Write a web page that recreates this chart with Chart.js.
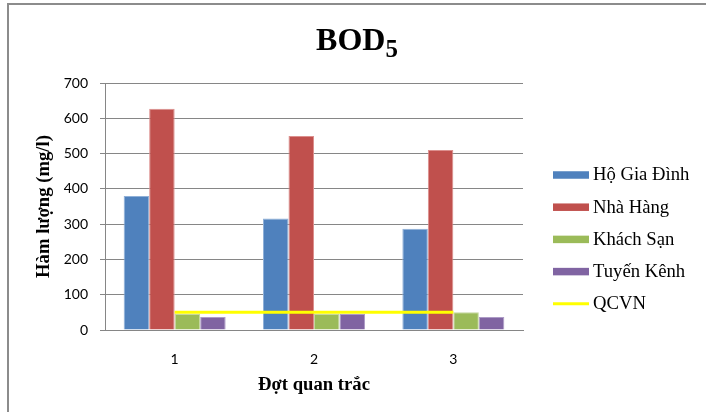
<!DOCTYPE html>
<html>
<head>
<meta charset="utf-8">
<script src="https://cdn.jsdelivr.net/npm/chart.js@4.4.1/dist/chart.umd.min.js"></script>
<style>
  html, body { margin: 0; padding: 0; background: #fff; }
  #wrap { position: relative; width: 706px; height: 412px; overflow: hidden; }
  #frame { position: absolute; left: 7px; top: 3px; right: -10px; bottom: -10px;
           border-left: 2px solid #8c8c8c; border-top: 2px solid #8c8c8c; }
  #c { position: absolute; left: 0; top: 0; }
</style>
</head>
<body>
<div id="wrap">
  <div id="frame"></div>
  <canvas id="c" width="706" height="412"></canvas>
</div>
<script>
// Sampling rounds (x axis)
const categories = ['1', '2', '3'];

// BOD5 concentration per source (mg/l)
const hoGiaDinh = [380, 316, 287];
const nhaHang   = [627, 550, 510];
const khachSan  = [46, 46, 50];
const tuyenKenh = [37, 45, 37];
// Regulatory limit (QCVN)
const qcvn      = [50, 50, 50];

const seriesNames = ['Hộ Gia Đình', 'Nhà Hàng', 'Khách Sạn', 'Tuyến Kênh', 'QCVN'];
const yTicks = [0, 100, 200, 300, 400, 500, 600, 700];

const titleMain = 'BOD';
const titleSub = '5';
const xTitle = 'Đợt quan trắc';
const yTitle = 'Hàm lượng (mg/l)';

const SERIF = '"Liberation Serif", "Times New Roman", serif';
const SANS = 'Lato, "Open Sans", sans-serif';
const GRID = '#868686';

// Title with a subscript digit
const titlePlugin = {
  id: 'bodTitle',
  afterDraw(chart) {
    const ctx = chart.ctx;
    ctx.save();
    ctx.fillStyle = '#000';
    ctx.textBaseline = 'alphabetic';
    ctx.font = 'bold 32px ' + SERIF;
    const wMain = ctx.measureText(titleMain).width;
    ctx.font = 'bold 25px ' + SERIF;
    const wSub = ctx.measureText(titleSub).width;
    const x0 = 357 - (wMain + wSub) / 2;
    ctx.font = 'bold 32px ' + SERIF;
    ctx.fillText(titleMain, x0, 50);
    ctx.font = 'bold 25px ' + SERIF;
    ctx.fillText(titleSub, x0 + wMain, 56.5);
    ctx.restore();
  }
};

// Legend listed to the right of the plot
const legendPlugin = {
  id: 'sideLegend',
  afterDraw(chart) {
    const ctx = chart.ctx;
    const x = 553, sw = 36, rowGap = 32.2, y0 = 175;
    ctx.save();
    ctx.font = '18.67px ' + SERIF;
    ctx.textBaseline = 'middle';
    ctx.textAlign = 'left';
    chart.data.datasets.forEach((ds, i) => {
      const yc = y0 + i * rowGap;
      if (ds.type === 'line') {
        ctx.strokeStyle = ds.borderColor;
        ctx.lineWidth = 3;
        ctx.beginPath();
        ctx.moveTo(x, yc);
        ctx.lineTo(x + sw, yc);
        ctx.stroke();
      } else {
        ctx.fillStyle = ds.backgroundColor;
        ctx.fillRect(x, yc - 3.75, sw, 7.5);
      }
      ctx.fillStyle = '#000';
      ctx.fillText(ds.label, x + sw + 4, yc + 0.5);
    });
    ctx.restore();
  }
};

const barColors = ['#4F81BD', '#C0504D', '#9BBB59', '#8064A2'];
const barEdges = ['#8fb0d8', '#dc8f8d', '#c3d79f', '#ad9bc6'];
const barSeries = [hoGiaDinh, nhaHang, khachSan, tuyenKenh];

const datasets = barSeries.map((vals, i) => ({
  type: 'bar',
  label: seriesNames[i],
  data: vals,
  backgroundColor: barColors[i],
  borderColor: barEdges[i],
  borderWidth: { left: 1, right: 1, top: 1, bottom: 0 },
  categoryPercentage: 0.732,
  barPercentage: 1.0,
  order: 1
}));
datasets.push({
  type: 'line',
  label: seriesNames[4],
  data: qcvn,
  borderColor: '#FFFF00',
  backgroundColor: '#FFFF00',
  borderWidth: 3,
  pointRadius: 0,
  fill: false,
  tension: 0,
  order: 0
});

new Chart(document.getElementById('c'), {
  data: { labels: categories, datasets },
  options: {
    responsive: false,
    devicePixelRatio: 1,
    animation: false,
    layout: { padding: { top: 83, right: 183, bottom: 0, left: 0 } },
    plugins: {
      legend: { display: false },
      title: { display: false },
      tooltip: { enabled: false }
    },
    scales: {
      x: {
        type: 'category',
        offset: true,
        grid: { display: false },
        border: { display: true, color: GRID, width: 1 },
        ticks: { color: '#000', font: { family: SANS, size: 14 }, padding: 13 },
        title: {
          display: true, text: xTitle, color: '#000',
          font: { family: SERIF, size: 18.67, weight: 'bold' },
          padding: { top: 0, bottom: 16 }
        },
        afterFit(scale) { scale.height = 82; }
      },
      y: {
        min: 0, max: 700,
        afterBuildTicks(scale) { scale.ticks = yTicks.map(v => ({ value: v })); },
        grid: { color: GRID, lineWidth: 1, drawTicks: true, tickLength: 5 },
        border: { display: true, color: GRID, width: 1 },
        ticks: { color: '#000', font: { family: SANS, size: 14 }, padding: 12 },
        title: {
          display: true, text: yTitle, color: '#000',
          font: { family: SERIF, size: 18.67, weight: 'bold' },
          padding: { top: 33, bottom: 0 }
        },
        afterFit(scale) { scale.width = 105; }
      }
    }
  },
  plugins: [titlePlugin, legendPlugin]
});
</script>
</body>
</html>
